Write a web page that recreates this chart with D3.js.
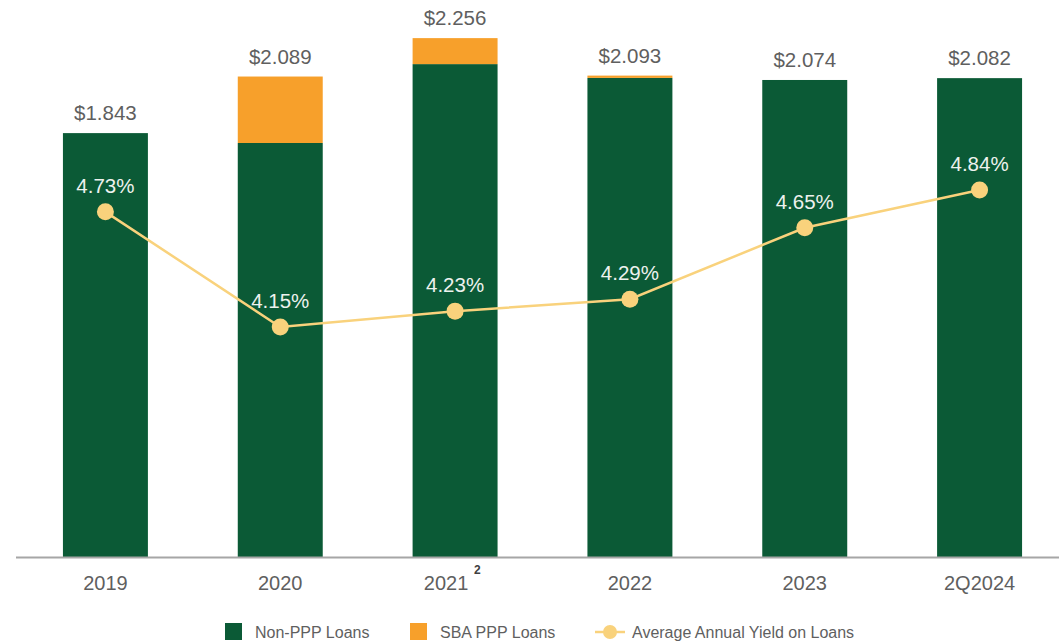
<!DOCTYPE html>
<html><head><meta charset="utf-8">
<script src="https://cdn.jsdelivr.net/npm/d3@7"></script>
<style>body{margin:0;background:#fff;}svg{display:block;font-family:"Liberation Sans",Arial,sans-serif;}</style>
</head><body><svg id="c" width="1059" height="643"></svg>
<script>
const categories = ["2019","2020","2021","2022","2023","2Q2024"];
const superscripts = ["","","2","","",""];
const nonPPP = [1.843, 1.800, 2.143, 2.083, 2.074, 2.082];
const sbaPPP = [0.000, 0.289, 0.113, 0.010, 0.000, 0.000];
const totals = [1.843, 2.089, 2.256, 2.093, 2.074, 2.082];
const yieldPct = [4.73, 4.15, 4.23, 4.29, 4.65, 4.84];
const legendLabels = ["Non-PPP Loans","SBA PPP Loans","Average Annual Yield on Loans"];

const GREEN="#0b5a36", ORANGE="#f7a02b", YEL="#f9d27c", TXT="#5f5f5f";
const svg = d3.select("#c");
const base = 557;
const x = d3.scaleBand().domain(categories).range([18,1067]).paddingInner(0.514).paddingOuter(0.257);
const y = d3.scaleLinear().domain([0,2.4]).range([base, base-2.4*230]);
const y2 = d3.scaleLinear().domain([2.992,5.8]).range([base, base-(5.8-2.992)*198.6]);

const g = svg.append("g");
categories.forEach((c,i)=>{
  g.append("rect").attr("x",x(c)).attr("width",x.bandwidth())
    .attr("y",y(nonPPP[i])).attr("height",y(0)-y(nonPPP[i])).attr("fill",GREEN);
  if(sbaPPP[i]>0) g.append("rect").attr("x",x(c)).attr("width",x.bandwidth())
    .attr("y",y(nonPPP[i]+sbaPPP[i])).attr("height",y(nonPPP[i])-y(nonPPP[i]+sbaPPP[i])).attr("fill",ORANGE);
  g.append("text").attr("x",x(c)+x.bandwidth()/2).attr("y",y(totals[i])-13)
    .attr("text-anchor","middle").attr("font-size",20.5).attr("fill",TXT).text("$"+totals[i].toFixed(3));
});

// axis
const ax = svg.append("g").attr("transform",`translate(0,${base})`)
  .call(d3.axisBottom(x).tickSize(0).tickPadding(0).tickFormat(()=>""));
ax.select(".domain").remove();
svg.append("line").attr("x1",16).attr("x2",1059).attr("y1",base+0.5).attr("y2",base+0.5).attr("stroke","#a6a6a6").attr("stroke-width",2);
categories.forEach((c,i)=>{
  const off = superscripts[i] ? -9 : 0;
  svg.append("text").attr("x",x(c)+x.bandwidth()/2+off).attr("y",590)
    .attr("text-anchor","middle").attr("font-size",20).attr("fill",TXT).text(c);
  if(superscripts[i]) svg.append("text").attr("x",x(c)+x.bandwidth()/2+off+28).attr("y",574)
    .attr("font-size",12).attr("font-weight","bold").attr("fill","#404040").text(superscripts[i]);
});

// line
const cx = c=>x(c)+x.bandwidth()/2;
svg.append("path").datum(yieldPct).attr("fill","none").attr("stroke",YEL).attr("stroke-width",2.5)
  .attr("d",d3.line().x((d,i)=>cx(categories[i])).y(d=>y2(d)));
svg.selectAll("circle.p").data(yieldPct).join("circle").attr("class","p")
  .attr("cx",(d,i)=>cx(categories[i])).attr("cy",d=>y2(d)).attr("r",8.5).attr("fill",YEL);
svg.selectAll("text.p").data(yieldPct).join("text").attr("class","p")
  .attr("x",(d,i)=>cx(categories[i])).attr("y",d=>y2(d)-19).attr("text-anchor","middle")
  .attr("font-size",20.5).attr("fill","#eef2ee").text(d=>d.toFixed(2)+"%");

// legend
const lg = svg.append("g").attr("font-size",16).attr("fill",TXT);
lg.append("rect").attr("x",225).attr("y",623).attr("width",17).attr("height",17).attr("fill",GREEN);
lg.append("text").attr("x",255).attr("y",638).attr("fill",TXT).text(legendLabels[0]);
lg.append("rect").attr("x",410).attr("y",623).attr("width",17).attr("height",17).attr("fill",ORANGE);
lg.append("text").attr("x",440).attr("y",638).attr("fill",TXT).text(legendLabels[1]);
lg.append("line").attr("x1",595).attr("x2",625).attr("y1",632).attr("y2",632).attr("stroke",YEL).attr("stroke-width",2.5);
lg.append("circle").attr("cx",610).attr("cy",632).attr("r",7).attr("fill",YEL);
lg.append("text").attr("x",632).attr("y",638).attr("fill",TXT).text(legendLabels[2]);
</script></body></html>
